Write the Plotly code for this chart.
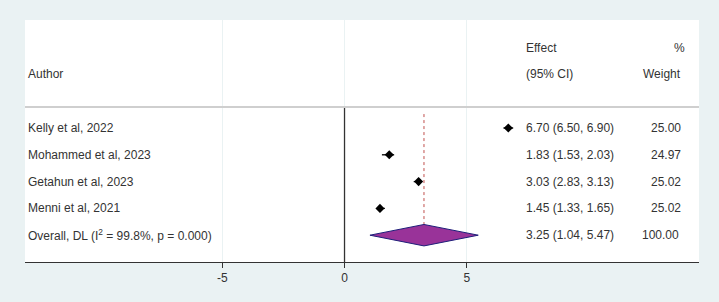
import plotly.graph_objects as go

authors = ["Kelly et al, 2022", "Mohammed et al, 2023", "Getahun et al, 2023", "Menni et al, 2021"]
effects = [6.70, 1.83, 3.03, 1.45]
ci_low = [6.50, 1.53, 2.83, 1.33]
ci_high = [6.90, 2.03, 3.13, 1.65]
weights = [25.00, 24.97, 25.02, 25.02]

overall_label = "Overall, DL (I<sup>2</sup> = 99.8%, p = 0.000)"
overall_est = 3.25
overall_low = 1.04
overall_high = 5.47
overall_weight = 100.00

tick_vals = [-5, 0, 5]
tick_text = ["-5", "0", "5"]

rows = list(range(1, len(authors) + 1))
overall_row = len(authors) + 1

FONT = "Liberation Sans, Arial, sans-serif"
TXT = "#333333"
FS = 12

fig = go.Figure()

# dashed overall line
fig.add_shape(type="line", x0=overall_est, x1=overall_est, y0=0.48, y1=overall_row + 0.4,
              xref="x", yref="y", line=dict(color="#c0504d", width=1, dash="3px,3px"), layer="below")
# null line
fig.add_shape(type="line", x0=0, x1=0, y0=0.22, y1=6.0,
              xref="x", yref="y", line=dict(color="#333333", width=1.3), layer="above")
# header separator
fig.add_shape(type="line", x0=0, x1=1, y0=0.22, y1=0.22, xref="paper", yref="y",
              line=dict(color="#cfcfcf", width=2))

# studies
fig.add_trace(go.Scatter(
    x=effects, y=rows, mode="markers",
    marker=dict(symbol="diamond", size=7, color="black"),
    error_x=dict(type="data", symmetric=False,
                 array=[h - e for h, e in zip(ci_high, effects)],
                 arrayminus=[e - l for e, l in zip(effects, ci_low)],
                 color="black", thickness=1.3, width=0),
    hoverinfo="skip", showlegend=False))

# overall diamond
hh = 0.4
fig.add_trace(go.Scatter(
    x=[overall_low, overall_est, overall_high, overall_est, overall_low],
    y=[overall_row, overall_row - hh, overall_row, overall_row + hh, overall_row],
    mode="lines", fill="toself", fillcolor="#993399",
    line=dict(color="#1f1f7a", width=1), hoverinfo="skip", showlegend=False))

# text columns
x_author = -13.03
x_effect = 7.33
x_weight = 13.85

def ann(x, y, text, anchor="left"):
    fig.add_annotation(x=x, y=y, xref="x", yref="y", text=text, showarrow=False,
                       xanchor=anchor, yanchor="middle",
                       font=dict(family=FONT, size=FS, color=TXT))

ann(x_author, -1, "Author")
ann(x_effect, -2, "Effect")
ann(x_effect, -1, "(95% CI)")
ann(x_weight + 0.15, -2, "%", "right")
ann(x_weight, -1, "Weight", "right")

for r, a, e, l, h, w in zip(rows, authors, effects, ci_low, ci_high, weights):
    ann(x_author, r, a)
    ann(x_effect, r, f"{e:.2f} ({l:.2f}, {h:.2f})")
    ann(x_weight, r, f"{w:.2f}", "right")

ann(x_author, overall_row, overall_label)
ann(x_effect, overall_row, f"{overall_est:.2f} ({overall_low:.2f}, {overall_high:.2f})")
ann(x_weight - 0.1, overall_row, f"{overall_weight:.2f}", "right")

fig.update_layout(
    width=719, height=302,
    margin=dict(l=25, r=20, t=20, b=40),
    paper_bgcolor="#eaf2f3", plot_bgcolor="white",
    font=dict(family=FONT, size=FS, color=TXT),
    xaxis=dict(range=[-13.07, 14.5], tickvals=tick_vals, ticktext=tick_text,
               showgrid=True, gridcolor="#eaf2f3", gridwidth=1, zeroline=False,
               showline=True, linecolor="#333333", linewidth=1,
               ticks="outside", ticklen=5, tickcolor="#333333",
               tickfont=dict(family=FONT, size=FS, color=TXT), fixedrange=True),
    yaxis=dict(range=[6.0, -3.03], visible=False, showgrid=False, zeroline=False, fixedrange=True),
)

fig.write_html("out.html", config={"displayModeBar": False},
               post_script="document.body.style.margin='0';document.body.style.padding='0';")
